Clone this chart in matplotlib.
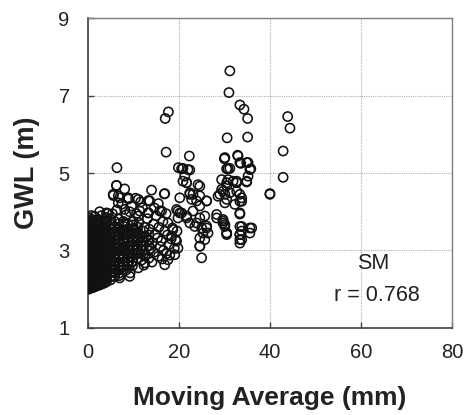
import matplotlib
matplotlib.use("Agg")
import matplotlib.pyplot as plt

plt.rcParams['font.family'] = ['Liberation Sans', 'DejaVu Sans']

# ---- data ----
# dense core: columns of points sharing (approximately) one x value
core_x = [0.0, 0.2, 0.5, 0.8, 1.1, 1.4, 1.7, 2.05, 2.4, 2.8, 3.2, 3.65, 4.1,
          5.0, 5.9, 6.8, 7.8, 8.8, 9.9, 11.0, 12.2, 13.4]
core_y = [
    [2.02, 2.08, 2.13, 2.19, 2.24, 2.31, 2.36, 2.42, 2.47, 2.53, 2.58, 2.64, 2.69, 2.75, 2.81, 2.86,
     2.92, 2.97, 3.03, 3.08, 3.14, 3.19, 3.25, 3.31, 3.36, 3.42, 3.48, 3.55, 3.62, 3.70, 3.78],
    [2.00, 2.06, 2.12, 2.18, 2.25, 2.33, 2.40, 2.47, 2.55, 2.62, 2.70, 2.77, 2.85, 2.93, 3.00, 3.07,
     3.15, 3.22, 3.30, 3.38, 3.45, 3.53, 3.66, 3.74],
    [2.05, 2.11, 2.17, 2.22, 2.28, 2.34, 2.39, 2.45, 2.51, 2.56, 2.62, 2.67, 2.73, 2.79, 2.84, 2.90,
     2.95, 3.01, 3.06, 3.12, 3.17, 3.23, 3.29, 3.34, 3.40, 3.46, 3.53, 3.61, 3.69],
    [2.03, 2.10, 2.18, 2.26, 2.35, 2.43, 2.52, 2.60, 2.68, 2.77, 2.85, 2.93, 3.02, 3.10, 3.18, 3.27,
     3.35, 3.44, 3.58, 3.72],
    [2.04, 2.10, 2.15, 2.21, 2.27, 2.33, 2.38, 2.44, 2.50, 2.55, 2.61, 2.66, 2.72, 2.78, 2.83, 2.89,
     2.94, 3.00, 3.05, 3.11, 3.16, 3.22, 3.28, 3.33, 3.39, 3.45, 3.52, 3.64, 3.77],
    [2.06, 2.14, 2.23, 2.32, 2.40, 2.49, 2.58, 2.66, 2.75, 2.84, 2.92, 3.01, 3.10, 3.19, 3.28, 3.38,
     3.50, 3.63],
    [2.07, 2.13, 2.19, 2.25, 2.30, 2.36, 2.42, 2.48, 2.54, 2.60, 2.65, 2.71, 2.77, 2.83, 2.88, 2.94,
     3.00, 3.06, 3.12, 3.18, 3.24, 3.30, 3.37, 3.44, 3.56, 3.68],
    [2.09, 2.18, 2.27, 2.36, 2.46, 2.55, 2.64, 2.74, 2.83, 2.92, 3.02, 3.11, 3.21, 3.31, 3.42, 3.53,
     3.65, 3.80],
    [2.10, 2.17, 2.24, 2.31, 2.38, 2.45, 2.52, 2.59, 2.66, 2.73, 2.80, 2.87, 2.94, 3.01, 3.08, 3.15,
     3.22, 3.29, 3.36, 3.46, 3.58, 3.72],
    [2.12, 2.22, 2.32, 2.42, 2.52, 2.62, 2.72, 2.82, 2.92, 3.02, 3.12, 3.22, 3.33, 3.44, 3.56, 3.68],
    [2.14, 2.21, 2.28, 2.35, 2.42, 2.49, 2.56, 2.63, 2.70, 2.77, 2.84, 2.91, 2.98, 3.05, 3.12, 3.19,
     3.27, 3.35, 3.47, 3.60, 3.74],
    [2.16, 2.26, 2.37, 2.47, 2.58, 2.68, 2.79, 2.89, 3.00, 3.10, 3.21, 3.31, 3.43, 3.55, 3.67, 3.80],
    [2.19, 2.27, 2.35, 2.43, 2.51, 2.59, 2.67, 2.75, 2.83, 2.91, 2.99, 3.07, 3.15, 3.24, 3.33, 3.45,
     3.57, 3.71, 3.85],
    [2.24, 2.33, 2.42, 2.51, 2.60, 2.69, 2.78, 2.87, 2.96, 3.05, 3.14, 3.23, 3.33, 3.44, 3.56, 3.68, 3.81],
    [2.33, 2.43, 2.52, 2.62, 2.71, 2.81, 2.90, 3.00, 3.09, 3.19, 3.28, 3.38, 3.49, 3.61, 3.75],
    [2.41, 2.50, 2.60, 2.69, 2.79, 2.88, 2.98, 3.07, 3.17, 3.26, 3.36, 3.46, 3.57, 3.69, 3.81],
    [2.50, 2.60, 2.70, 2.80, 2.90, 3.00, 3.10, 3.20, 3.30, 3.41, 3.52, 3.63, 3.75],
    [2.61, 2.71, 2.81, 2.91, 3.01, 3.11, 3.21, 3.31, 3.42, 3.54, 3.68],
    [2.71, 2.81, 2.92, 3.02, 3.13, 3.23, 3.34, 3.45, 3.57, 3.66],
    [2.80, 2.91, 3.02, 3.13, 3.24, 3.35, 3.47, 3.60],
    [2.90, 3.01, 3.12, 3.23, 3.35, 3.50],
    [3.00, 3.12, 3.25, 3.40],
]

# scattered points around the core (x: moving average mm, y: GWL m)
mid_x = [5.4, 5.9, 6.2, 6.5, 6.8, 5.7, 6.1, 6.9, 7.3, 7.6, 7.4, 7.8, 7.2, 7.9, 8.4, 8.7, 8.2, 8.9,
         8.6, 9.0, 8.5, 9.3, 9.8, 9.6, 10.1, 9.9, 10.4, 10.0, 10.7, 11.2, 11.0, 11.5, 11.3, 11.8,
         11.1, 12.3, 12.6, 12.1, 12.8, 12.4, 13.1, 13.5, 13.2, 13.8, 13.4, 14.1, 14.5, 14.2, 14.8,
         14.4, 15.0, 15.6, 15.3, 15.9, 15.5, 16.3, 16.6, 16.2, 16.9, 16.5, 17.2, 17.5, 17.8, 17.3,
         18.0, 18.3, 18.6, 19.0, 19.3, 19.6, 12.0, 11.6, 14.6, 9.2, 6.4, 7.5, 10.5,
         3.0, 4.4, 2.6, 1.5, 0.8, 2.3, 4.1, 0.4, 0.1,
         9.2, 7.0, 5.2, 12.5, 16.9, 17.6, 18.7, 18.4, 19.5, 19.8, 19.1, 17.6]
mid_y = [3.95, 3.62, 3.38, 3.10, 2.85, 2.60, 2.42, 2.35, 2.55, 2.78, 3.02, 3.25, 3.50, 3.70, 3.92,
         3.55, 3.35, 3.12, 2.92, 2.70, 2.50, 2.42, 2.60, 2.85, 3.05, 3.30, 3.50, 3.75, 3.95, 3.72,
         3.42, 3.20, 2.95, 2.75, 2.55, 2.62, 2.88, 3.10, 3.35, 3.60, 3.82, 3.55, 3.28, 3.05, 2.80,
         2.70, 2.95, 3.20, 3.42, 3.68, 3.90, 3.60, 3.32, 3.10, 2.85, 2.78, 3.00, 3.25, 3.50, 3.75,
         3.95, 3.40, 3.15, 2.92, 2.88, 3.30, 3.58, 3.05, 3.28, 3.50, 4.10, 4.25, 4.10, 4.00, 4.05,
         4.20, 4.35,
         3.90, 3.95, 4.00, 3.88, 3.90, 3.80, 3.76, 3.84, 3.84,
         2.33, 2.29, 2.33, 2.68, 2.63, 2.76, 3.54, 3.37, 3.24, 3.06, 2.89, 3.71]

upper_x = [6.3, 8.1, 5.6, 7.0, 8.9, 11.1, 14.0, 16.9, 13.6, 15.5, 15.8, 13.3, 11.4, 4.1, 6.7, 8.1,
           9.6, 13.3, 16.2, 11.1, 19.8, 20.6, 20.9, 6.3, 5.6, 6.7, 8.9, 13.3, 16.8,
           17.7, 17.0, 17.2, 22.3, 30.0, 6.4, 20.9, 22.4, 30.5,
           31.2, 31.0, 33.4, 34.3, 35.1, 43.9, 44.4, 30.6, 35.1, 42.9, 30.1, 33.0, 33.6, 35.2,
           31.2, 35.8, 42.9, 40.0, 40.0]
upper_y = [4.68, 4.59, 4.42, 4.36, 4.36, 4.32, 4.56, 4.47, 4.28, 4.21, 4.02, 3.97, 4.02, 3.97, 4.23,
           4.06, 4.15, 4.29, 4.02, 3.89, 4.02, 5.11, 4.79, 4.68, 4.45, 4.41, 4.33, 3.97, 4.46,
           6.58, 6.41, 5.54, 5.44, 5.37, 5.14, 5.12, 5.08, 5.11,
           7.64, 7.08, 6.76, 6.65, 6.41, 6.46, 6.16, 5.91, 5.93, 5.57, 5.40, 5.44, 5.25, 5.27,
           5.12, 5.11, 4.89, 4.45, 4.47]

right_x = [30.5, 32.7, 34.9, 29.7, 31.2, 33.4, 33.8, 30.1, 32.3, 33.4, 29.7, 30.1, 30.5, 33.4,
           36.0, 35.6, 33.4, 33.4, 33.4, 32.9, 33.4, 34.9, 19.9, 22.0, 30.8, 35.6, 35.2, 21.3,
           21.7, 29.4, 30.8, 31.9, 32.7, 34.9, 24.6, 22.4, 23.1, 29.4, 30.1, 30.5, 28.6, 32.7,
           33.8, 33.4, 20.2, 22.8, 23.9, 26.1, 24.6, 19.5, 20.6, 21.7, 19.8, 22.4, 23.5, 24.6,
           25.7, 25.0, 26.1, 26.4, 24.6, 25.7, 24.6, 28.3, 29.7, 30.1, 30.5, 33.4, 33.8, 33.8,
           33.4, 33.8, 35.6, 21.7, 24.2, 22.4, 24.6, 26.1, 20.2, 21.7, 23.1, 23.9, 26.1, 25.3,
           24.6, 25.0, 28.3, 29.7, 30.5, 29.0, 30.5]
right_y = [4.75, 4.79, 4.77, 4.53, 4.49, 4.45, 4.27, 4.23, 4.19, 3.97, 3.80, 3.67, 3.45, 3.62,
           3.58, 3.45, 3.41, 3.28, 3.19, 5.46, 5.27, 5.27, 5.14, 5.09, 5.11, 5.09, 4.92, 4.92,
           4.75, 4.83, 4.83, 4.79, 4.75, 4.79, 4.66, 4.49, 4.45, 4.58, 4.45, 4.32, 4.40, 4.53,
           4.36, 4.27, 4.36, 4.32, 4.28, 4.28, 4.15, 4.06, 3.97, 3.84, 3.84, 3.71, 3.62, 3.84,
           3.89, 3.58, 3.58, 3.45, 3.32, 3.28, 3.11, 3.84, 3.76, 3.62, 3.41, 3.94, 3.62, 3.50,
           3.41, 3.28, 3.58, 4.75, 4.70, 4.45, 4.41, 4.28, 3.97, 3.89, 4.02, 3.71, 3.63, 3.45,
           3.11, 2.81, 3.93, 3.71, 3.45, 4.45, 4.67]

x_ticks = [0, 20, 40, 60, 80]
y_ticks = [1, 3, 5, 7, 9]
station = "SM"
r_text = "r = 0.768"

# ---- assemble ----
xs, ys = [], []
for cx, col in zip(core_x, core_y):
    xs += [cx] * len(col)
    ys += col
xs += mid_x + upper_x + right_x
ys += mid_y + upper_y + right_y

fig = plt.figure(figsize=(4.67, 4.15), dpi=100)
ax = fig.add_axes([0.188, 0.21, 0.78, 0.746])

ax.scatter(xs, ys, s=44, facecolors='none', edgecolors='#111111', linewidths=1.15, zorder=3)

ax.set_xlim(0, 80)
ax.set_ylim(1, 9)
ax.set_xticks(x_ticks)
ax.set_yticks(y_ticks)
ax.grid(True, color='#b0b0b0', linestyle=(0, (1, 1)), linewidth=0.8, zorder=0)
ax.tick_params(direction='in', length=4, width=1, colors='#404040', labelcolor='#222222',
               labelsize=14.5)
ax.tick_params(axis='x', pad=11)
ax.tick_params(axis='y', pad=13)
for side in ['left', 'bottom']:
    ax.spines[side].set_color('#404040')
    ax.spines[side].set_linewidth(1.2)
for side in ['top', 'right']:
    ax.spines[side].set_color('#808080')
    ax.spines[side].set_linewidth(1.0)

ax.set_xlabel("Moving Average (mm)", fontsize=19, fontweight='bold', color='#222222', labelpad=17)
ax.set_ylabel("GWL (m)", fontsize=19.5, fontweight='bold', color='#222222', labelpad=13)

ax.text(62.6, 2.66, station, fontsize=15.5, ha='center', va='center', color='#222222')
ax.text(63.5, 1.83, r_text, fontsize=15.5, ha='center', va='center', color='#222222')

fig.savefig("out.png", dpi=100)
